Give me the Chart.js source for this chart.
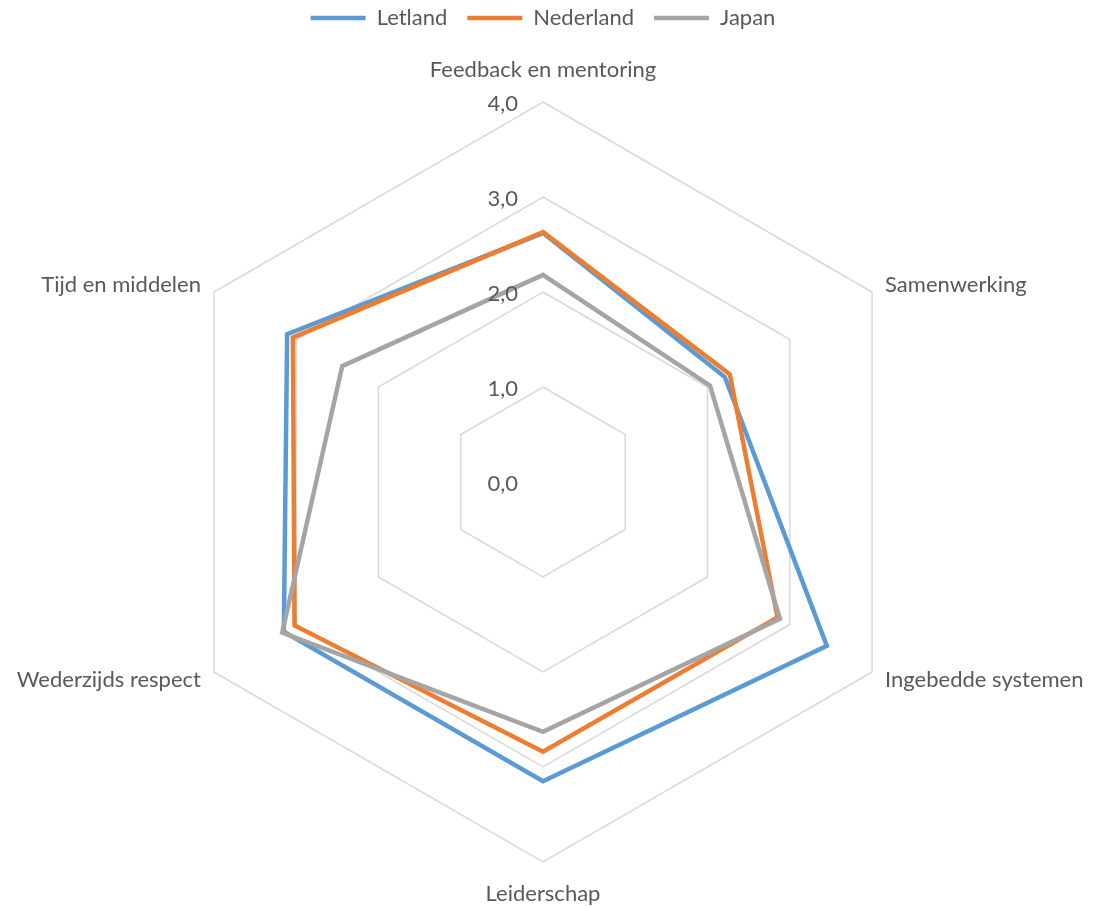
<!DOCTYPE html>
<html>
<head>
<meta charset="utf-8">
<script src="https://cdn.jsdelivr.net/npm/chart.js@4.4.1/dist/chart.umd.min.js"></script>
<style>
  html, body { margin: 0; padding: 0; background: #fff; }
  #wrap { width: 1095px; height: 907px; }
</style>
</head>
<body>
<div id="wrap"><canvas id="radarChart"></canvas></div>
<script>
// Categories (clockwise from top)
const categories = ['Feedback en mentoring', 'Samenwerking', 'Ingebedde systemen', 'Leiderschap', 'Wederzijds respect', 'Tijd en middelen'];

// Series values
const letland = [2.62, 2.21, 3.45, 3.15, 3.15, 3.11];
const nederland = [2.63, 2.27, 2.85, 2.84, 3.02, 3.04];
const japan = [2.18, 2.03, 2.88, 2.63, 3.17, 2.44];

// Tick labels (0..4)
const tickLabels = ['0,0', '1,0', '2,0', '3,0', '4,0'];

const textColor = '#595959';
const fontFamily = 'Lato, "Open Sans", sans-serif';

// Give the legend a fixed height and pull its row up a little
const legendSpace = {
    id: 'legendSpace',
    beforeInit(chart) {
        const fit = chart.legend.fit;
        chart.legend.fit = function () {
            fit.call(this);
            this.height = 102;
        };
        const draw = chart.legend.draw;
        chart.legend.draw = function () {
            const c = this.ctx;
            c.save();
            c.translate(0, -13);
            draw.call(this);
            c.restore();
        };
    }
};

// Tick labels left of the vertical axis and point labels around the web
const axisText = {
    id: 'axisText',
    afterDraw(chart) {
        const scale = chart.scales.r;
        const ctx = chart.ctx;
        ctx.save();
        ctx.fillStyle = textColor;
        ctx.font = '22px ' + fontFamily;
        ctx.textBaseline = 'middle';

        ctx.textAlign = 'right';
        scale.ticks.forEach((t, i) => {
            const d = scale.getDistanceFromCenterForValue(t.value);
            ctx.fillText(tickLabels[i], scale.xCenter - 25, scale.yCenter - d + 2);
        });

        categories.forEach((name, i) => {
            const vertical = i % 3 === 0;
            const p = scale.getPointPosition(i, scale.drawingArea + (vertical ? 32 : 15));
            ctx.textAlign = vertical ? 'center' : (p.x > scale.xCenter ? 'left' : 'right');
            ctx.fillText(name, p.x, p.y);
        });
        ctx.restore();
    }
};

const ctx = document.getElementById('radarChart').getContext('2d');

new Chart(ctx, {
    type: 'radar',
    data: {
        labels: categories,
        datasets: [
            { label: 'Letland', data: letland, borderColor: '#5B9BD5', backgroundColor: '#5B9BD5', borderWidth: 4.5, order: 3 },
            { label: 'Nederland', data: nederland, borderColor: '#ED7D31', backgroundColor: '#ED7D31', borderWidth: 4.5, order: 2 },
            { label: 'Japan', data: japan, borderColor: '#A5A5A5', backgroundColor: '#A5A5A5', borderWidth: 4.5, order: 1 }
        ]
    },
    options: {
        responsive: true,
        maintainAspectRatio: false,
        animation: false,
        layout: { padding: { left: 0, right: 9, top: 0, bottom: 45 } },
        elements: {
            line: { borderWidth: 4.5, fill: false, tension: 0, borderCapStyle: 'round', borderJoinStyle: 'miter' },
            point: { radius: 0, hoverRadius: 0 }
        },
        scales: {
            r: {
                min: 0,
                max: 4,
                ticks: { stepSize: 1, display: false },
                grid: { color: '#D9D9D9', lineWidth: 1.5 },
                angleLines: { display: false },
                pointLabels: { display: false }
            }
        },
        plugins: {
            legend: {
                position: 'top',
                labels: {
                    usePointStyle: true,
                    pointStyle: 'line',
                    boxWidth: 55,
                    pointStyleWidth: 55,
                    padding: 20,
                    color: textColor,
                    font: { size: 22, family: fontFamily },
                    sort: (a, b) => a.datasetIndex - b.datasetIndex
                }
            },
            tooltip: { enabled: false }
        }
    },
    plugins: [legendSpace, axisText]
});
</script>
</body>
</html>
